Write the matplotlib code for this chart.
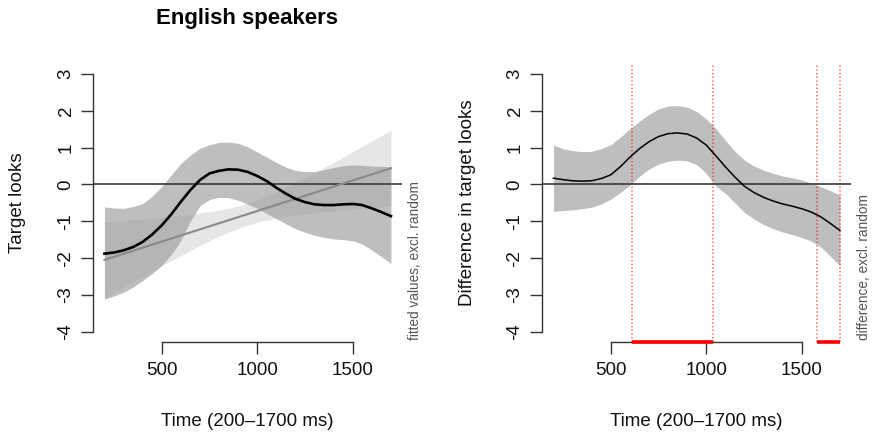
import matplotlib
matplotlib.use('Agg')
import matplotlib.pyplot as plt

plt.rcParams['font.family'] = ['Liberation Sans', 'DejaVu Sans']

# ---------------- data ----------------
time_ms = [200, 250, 300, 350, 400, 450, 500, 550, 600, 650, 700, 750, 800, 850, 900, 950,
           1000, 1050, 1100, 1150, 1200, 1250, 1300, 1350, 1400, 1450, 1500, 1550, 1600, 1650, 1700]

# left panel: smooth fit (black) with its CI
left_fit = [-1.88, -1.85, -1.79, -1.70, -1.56, -1.36, -1.11, -0.81, -0.47, -0.15, 0.12, 0.30, 0.37,
            0.41, 0.40, 0.34, 0.23, 0.09, -0.09, -0.25, -0.39, -0.48, -0.54, -0.56, -0.56, -0.54,
            -0.53, -0.56, -0.65, -0.75, -0.86]
left_fit_upper = [-0.61, -0.64, -0.65, -0.60, -0.52, -0.32, -0.06, 0.26, 0.57, 0.80, 0.98, 1.08, 1.14,
                  1.15, 1.12, 1.02, 0.88, 0.74, 0.60, 0.47, 0.38, 0.35, 0.35, 0.40, 0.46, 0.51,
                  0.53, 0.52, 0.50, 0.49, 0.48]
left_fit_lower = [-3.12, -3.03, -2.93, -2.79, -2.61, -2.42, -2.20, -1.90, -1.52, -0.99, -0.58, -0.41,
                  -0.35, -0.36, -0.43, -0.53, -0.65, -0.79, -0.93, -1.07, -1.20, -1.30, -1.38, -1.44,
                  -1.48, -1.50, -1.53, -1.62, -1.78, -1.96, -2.15]

# left panel: straight line (gray) with its CI
line_time = [200, 1700]
left_line = [-2.05, 0.44]
band_time = [200, 300, 400, 500, 600, 700, 800, 900, 1000, 1100, 1200, 1300, 1400, 1500, 1600, 1700]
left_line_upper = [-1.02, -0.98, -0.94, -0.89, -0.84, -0.78, -0.70, -0.59, -0.43, -0.21, 0.05,
                   0.32, 0.60, 0.89, 1.18, 1.47]
left_line_lower = [-3.08, -2.79, -2.50, -2.21, -1.93, -1.66, -1.40, -1.19, -1.02, -0.91, -0.83,
                   -0.77, -0.72, -0.67, -0.63, -0.59]

# right panel: difference curve with CI
diff_fit = [0.17, 0.13, 0.10, 0.09, 0.10, 0.16, 0.26, 0.48, 0.74, 0.97, 1.16, 1.30, 1.38, 1.40, 1.37,
            1.26, 1.07, 0.78, 0.48, 0.20, -0.05, -0.22, -0.35, -0.45, -0.53, -0.59, -0.66, -0.75,
            -0.88, -1.06, -1.25]
diff_upper = [1.07, 0.97, 0.92, 0.89, 0.90, 0.97, 1.08, 1.28, 1.51, 1.72, 1.90, 2.05, 2.13, 2.14, 2.10,
              1.98, 1.78, 1.52, 1.20, 0.90, 0.66, 0.50, 0.39, 0.30, 0.23, 0.18, 0.12, 0.04, -0.06,
              -0.17, -0.29]
diff_lower = [-0.73, -0.71, -0.69, -0.66, -0.62, -0.53, -0.40, -0.22, -0.02, 0.22, 0.42, 0.55, 0.63,
              0.66, 0.64, 0.54, 0.30, -0.05, -0.24, -0.50, -0.76, -0.94, -1.09, -1.20, -1.29, -1.36,
              -1.44, -1.54, -1.70, -1.95, -2.21]

sig_start = [610, 1580]
sig_end = [1035, 1700]

x_ticks = [500, 1000, 1500]
y_ticks = [-4, -3, -2, -1, 0, 1, 2, 3]

# ---------------- figure ----------------
fig = plt.figure(figsize=(8.72, 4.33), dpi=100)
axL = fig.add_axes([0.10665, 0.21016, 0.35482, 0.64273])
axR = fig.add_axes([0.62156, 0.21016, 0.35482, 0.64273])

AX_COL = '#333333'
FS = 13.5
LIGHT = '#e6e6e6'
SHADE = '#9b9b9b'
SHADE_ALPHA = 0.65


def style(ax, ylabel, side_text, ylab_x):
    ax.set_xlim(140, 1760)
    ax.set_ylim(-4.28, 3.28)
    for s in ['top', 'right']:
        ax.spines[s].set_visible(False)
    for s in ['left', 'bottom']:
        ax.spines[s].set_color(AX_COL)
        ax.spines[s].set_linewidth(1.0)
    ax.spines['left'].set_bounds(-4, 3)
    ax.spines['bottom'].set_bounds(500, 1500)
    ax.set_xticks(x_ticks)
    ax.set_xticklabels([str(v) for v in x_ticks])
    ax.set_yticks(y_ticks)
    ax.set_yticklabels([str(v) for v in y_ticks], rotation=90, va='center')
    ax.tick_params(direction='out', length=8.3, width=1.0, color=AX_COL,
                   labelcolor='#111111', labelsize=FS)
    ax.tick_params(axis='y', pad=5)
    ax.tick_params(axis='x', pad=6)
    ax.set_xlabel('Time (200\u20131700 ms)', fontsize=FS, va='center', color='#111111')
    ax.xaxis.set_label_coords(0.5, -0.285)
    ax.set_ylabel(ylabel, fontsize=FS, va='center', color='#111111')
    ax.yaxis.set_label_coords(ylab_x, 0.5)
    ax.axhline(0, color='#3a3a3a', lw=1.2, zorder=3)
    ax.text(1.042, 0.007, side_text, transform=ax.transAxes, rotation=90,
            ha='center', va='bottom', fontsize=9.8, color='#555555')


# left panel
axL.fill_between(band_time, left_line_lower, left_line_upper, color=LIGHT, lw=0, zorder=1)
axL.fill_between(time_ms, left_fit_lower, left_fit_upper, color=SHADE, alpha=SHADE_ALPHA,
                 lw=0, zorder=1.5)
axL.plot(line_time, left_line, color='#8a8a8a', lw=1.5, zorder=4)
axL.plot(time_ms, left_fit, color='black', lw=1.9, zorder=5)
style(axL, 'Target looks', 'fitted values, excl. random', -0.245)

# right panel
axR.fill_between(time_ms, diff_lower, diff_upper, color=SHADE, alpha=SHADE_ALPHA, lw=0, zorder=1)
axR.plot(time_ms, diff_fit, color='black', lw=1.1, zorder=5)
for a, b in zip(sig_start, sig_end):
    for v in (a, b):
        axR.axvline(v, color='red', alpha=0.6, lw=1.2, ls=(0, (0.8, 1.4)), zorder=2)
    axR.plot([a, b], [-4.28, -4.28], color='red', lw=2.6, solid_capstyle='butt',
             clip_on=False, zorder=6)
style(axR, 'Difference in target looks', 'difference, excl. random', -0.24)

fig.text(0.2838, 0.958, 'English speakers', ha='center', va='center', fontsize=16,
         fontweight='bold')

fig.savefig('out.png', dpi=100)
